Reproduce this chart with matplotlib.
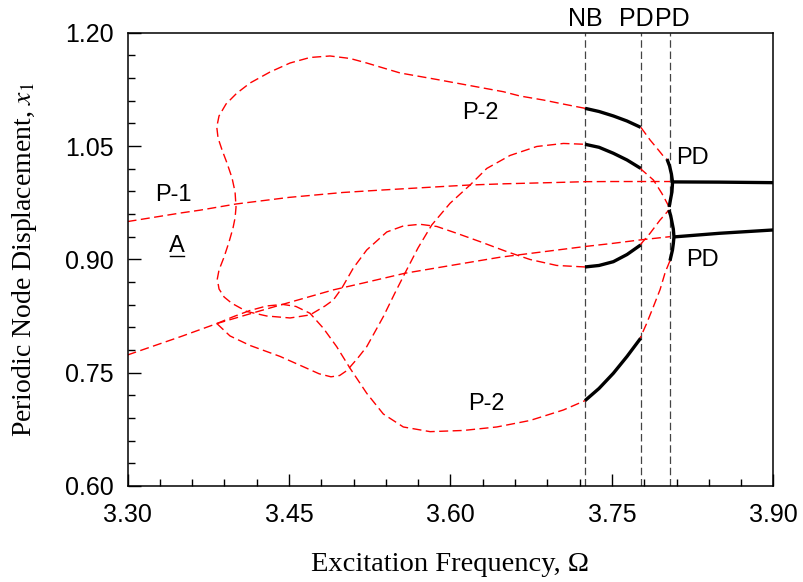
import matplotlib
matplotlib.use("Agg")
import matplotlib.pyplot as plt
from matplotlib.lines import Line2D
from matplotlib.ticker import MultipleLocator, FormatStrFormatter

plt.rcParams['font.family'] = ['Liberation Sans', 'DejaVu Sans']
plt.rcParams['mathtext.fontset'] = 'stix'

# bifurcation frequencies
omega_nb = 3.7250
omega_pd1 = 3.7766
omega_pd2 = 3.8039
marker_lines = [omega_nb, omega_pd1, omega_pd2]

# ---- P-1 branches ----
p1_upper_x = [3.30, 3.35, 3.367, 3.401, 3.45, 3.50, 3.5345, 3.60, 3.618, 3.65, 3.70, 3.725, 3.75, 3.78, 3.8039]
p1_upper_y = [0.950, 0.9615, 0.965, 0.9733, 0.982, 0.9885, 0.9916, 0.9970, 0.9984, 1.0000, 1.0018, 1.0028, 1.0030, 1.0030, 1.0030]
p1_upper_stable_x = [3.8062, 3.85, 3.90]
p1_upper_stable_y = [1.0025, 1.0022, 1.0015]

p1_lower_x = [3.30, 3.35, 3.383, 3.42, 3.448, 3.491, 3.52, 3.5577, 3.60, 3.646, 3.70, 3.725, 3.75, 3.775, 3.8039]
p1_lower_y = [0.7734, 0.798, 0.815, 0.8305, 0.842, 0.8595, 0.869, 0.8816, 0.8918, 0.9028, 0.9125, 0.917, 0.921, 0.9255, 0.930]
p1_lower_stable_x = [3.8076, 3.85, 3.90]
p1_lower_stable_y = [0.9297, 0.9345, 0.9389]

# ---- P-2 branches (unstable parts) ----
# closed loop on the left, joins NB at top and at middle
loop_x = [3.7250, 3.7046, 3.6863, 3.6646, 3.6491, 3.6151, 3.5873, 3.5532, 3.5346, 3.5222,
          3.5067, 3.4881, 3.4695, 3.4510, 3.4324, 3.4138, 3.4014, 3.3915, 3.3850, 3.3829,
          3.3841, 3.3878, 3.3924, 3.3971, 3.3999, 3.4008, 3.3999, 3.3980, 3.3943, 3.3897,
          3.3850, 3.3834, 3.3850, 3.3897, 3.3968, 3.4107, 3.4293, 3.4510, 3.4695, 3.4835,
          3.4912, 3.4990, 3.5098, 3.5222, 3.5408, 3.5562, 3.5717, 3.5873, 3.6058, 3.6275,
          3.6523, 3.6739, 3.6987, 3.7250]
loop_y = [1.0999, 1.1056, 1.1109, 1.1162, 1.1219, 1.1308, 1.1381, 1.1467, 1.1546, 1.1599,
          1.1659, 1.1692, 1.1672, 1.1599, 1.1480, 1.1334, 1.1198, 1.1056, 1.0898, 1.0752,
          1.0606, 1.0448, 1.0275, 1.0077, 0.9892, 0.9693, 0.9548, 0.9415, 0.9230, 0.9031,
          0.8859, 0.8740, 0.8608, 0.8502, 0.8419, 0.8310, 0.8250, 0.8224, 0.8264, 0.8383,
          0.8462, 0.8617, 0.8886, 0.9124, 0.9362, 0.9442, 0.9464, 0.9435, 0.9345, 0.9234,
          0.9102, 0.8998, 0.8919, 0.8899]

# branch leaving P-1 (lower) and rising to NB
p2_a_x = [3.383, 3.3952, 3.4138, 3.4417, 3.4665, 3.4780, 3.4890, 3.4970, 3.5040, 3.5140,
          3.5222, 3.5376, 3.5484, 3.5577, 3.5698, 3.5826, 3.5996, 3.6182, 3.6337, 3.6553,
          3.6802, 3.7049, 3.7250]
p2_a_y = [0.815, 0.7986, 0.7860, 0.7715, 0.7558, 0.7485, 0.7445, 0.7462, 0.7530, 0.7695,
          0.7844, 0.8241, 0.8555, 0.8816, 0.9150, 0.9455, 0.9742, 0.9984, 1.0203, 1.0375,
          1.0494, 1.0534, 1.0523]

# branch leaving P-1 (lower) and falling to NB
p2_b_x = [3.383, 3.3983, 3.4138, 3.4293, 3.4444, 3.4565, 3.4695, 3.4819, 3.4943, 3.5067,
          3.5222, 3.5376, 3.5562, 3.5811, 3.6121, 3.6430, 3.6739, 3.7049, 3.7250]
p2_b_y = [0.815, 0.8241, 0.8323, 0.8383, 0.8403, 0.8376, 0.8286, 0.8088, 0.7844, 0.7558,
          0.7227, 0.6953, 0.6781, 0.6719, 0.6735, 0.6781, 0.6867, 0.7006, 0.7130]

# short unstable arms between PD1 and PD2
arm1_x = [3.7768, 3.7854, 3.7931, 3.7978, 3.8011]
arm1_y = [1.0748, 1.0580, 1.0448, 1.0365, 1.0328]
arm2_x = [3.8031, 3.7963, 3.7885, 3.7761]
arm2_y = [0.9693, 0.9874, 1.0050, 1.0205]
arm3_x = [3.7761, 3.7854, 3.7947, 3.8029]
arm3_y = [0.9190, 0.9345, 0.9521, 0.9653]
arm4_x = [3.8039, 3.7995, 3.7947, 3.7885, 3.7823, 3.7761]
arm4_y = [0.8982, 0.8830, 0.8600, 0.8374, 0.8154, 0.7955]

# ---- P-2 stable parts (NB -> PD1) ----
stab_x = [3.7250, 3.738, 3.7513, 3.764, 3.7766]
stab1_y = [1.0999, 1.0957, 1.0898, 1.0831, 1.0748]
stab2_y = [1.0523, 1.0483, 1.0404, 1.0315, 1.0205]
stab3_y = [0.8899, 0.8919, 0.8969, 0.9064, 0.9190]
stab4_y = [0.7130, 0.7291, 0.7492, 0.7715, 0.7955]

# stable P-2 born at PD2
pd_up_x = [3.8011, 3.8035, 3.8052, 3.8063, 3.8057, 3.8043, 3.8031]
pd_up_y = [1.0328, 1.0236, 1.0130, 1.0024, 0.9892, 0.9786, 0.9693]
pd_lo_x = [3.8029, 3.8045, 3.8057, 3.8070, 3.8076, 3.8070, 3.8062, 3.8050, 3.8039]
pd_lo_y = [0.9653, 0.9580, 0.9495, 0.9400, 0.9297, 0.9210, 0.9124, 0.9050, 0.8982]

red_kw = dict(color='red', lw=1.0, ls=(0, (6.5, 3.2)))
blk_kw = dict(color='black', lw=2.4, solid_capstyle='butt')

fig, ax = plt.subplots(figsize=(8.04, 5.82), dpi=100)
fig.subplots_adjust(left=0.1586, right=0.962, bottom=0.165, top=0.9438)

for xv in marker_lines:
    ax.axvline(xv, color='#444444', lw=0.9, ls=(0, (6, 3)), zorder=1)

ax.plot(p1_upper_x, p1_upper_y, **red_kw)
ax.plot(p1_lower_x, p1_lower_y, **red_kw)
ax.plot(loop_x, loop_y, **red_kw)
ax.plot(p2_a_x, p2_a_y, **red_kw)
ax.plot(p2_b_x, p2_b_y, **red_kw)
for xs, ys in [(arm1_x, arm1_y), (arm2_x, arm2_y), (arm3_x, arm3_y), (arm4_x, arm4_y)]:
    ax.plot(xs, ys, **red_kw)

ax.plot(p1_upper_stable_x, p1_upper_stable_y, **blk_kw)
ax.plot(p1_lower_stable_x, p1_lower_stable_y, **blk_kw)
for ys in [stab1_y, stab2_y, stab3_y, stab4_y]:
    ax.plot(stab_x, ys, **blk_kw)
ax.plot(pd_up_x, pd_up_y, **blk_kw)
ax.plot(pd_lo_x, pd_lo_y, **blk_kw)

ax.set_xlim(3.30, 3.90)
ax.set_ylim(0.60, 1.20)
ax.xaxis.set_major_locator(MultipleLocator(0.15))
ax.xaxis.set_minor_locator(MultipleLocator(0.03))
ax.yaxis.set_major_locator(MultipleLocator(0.15))
ax.yaxis.set_minor_locator(MultipleLocator(0.03))
ax.xaxis.set_major_formatter(FormatStrFormatter('%.2f'))
ax.yaxis.set_major_formatter(FormatStrFormatter('%.2f'))
ax.tick_params(which='both', direction='in', top=False, right=False, width=1)
ax.tick_params(which='major', length=9, labelsize=18)
ax.tick_params(axis='x', which='major', pad=12)
ax.tick_params(axis='y', which='major', pad=10)
ax.tick_params(which='minor', length=5)
for sp in ax.spines.values():
    sp.set_linewidth(1.1)

serif = ['Liberation Serif', 'DejaVu Serif']
ax.set_xlabel('Excitation Frequency, \u03a9', fontsize=20.5, family=serif)
ax.set_ylabel('Periodic Node Displacement, $x_1$', fontsize=20, family=serif)
ax.xaxis.set_label_coords(0.5, -0.146)
ax.yaxis.set_label_coords(-0.137, 0.5)

lab = dict(fontsize=17, ha='center', va='center')
ax.text(3.343, 0.985, 'P-1', **lab)
txt_a = ax.text(3.346, 0.917, 'A', **lab)
ax.text(3.6274, 1.0932, 'P-2', **lab)
ax.text(3.6336, 0.7086, 'P-2', **lab)
ax.text(3.8252, 1.0348, 'PD', **lab)
ax.text(3.8336, 0.899, 'PD', **lab)

top = ax.get_xaxis_transform()
top_lab = dict(lab, fontsize=18)
ax.text(omega_nb, 1.030, 'NB', transform=top, **top_lab)
ax.text(3.7724, 1.030, 'PD', transform=top, **top_lab)
ax.text(3.8058, 1.030, 'PD', transform=top, **top_lab)

# underline the "A" label
fig.canvas.draw()
bb = txt_a.get_window_extent().transformed(ax.transAxes.inverted())
ax.add_line(Line2D([bb.x0 + 0.002, bb.x1 - 0.002], [bb.y0 + 0.003] * 2,
                   transform=ax.transAxes, color='black', lw=1.0))

fig.savefig('out.png', dpi=100)
